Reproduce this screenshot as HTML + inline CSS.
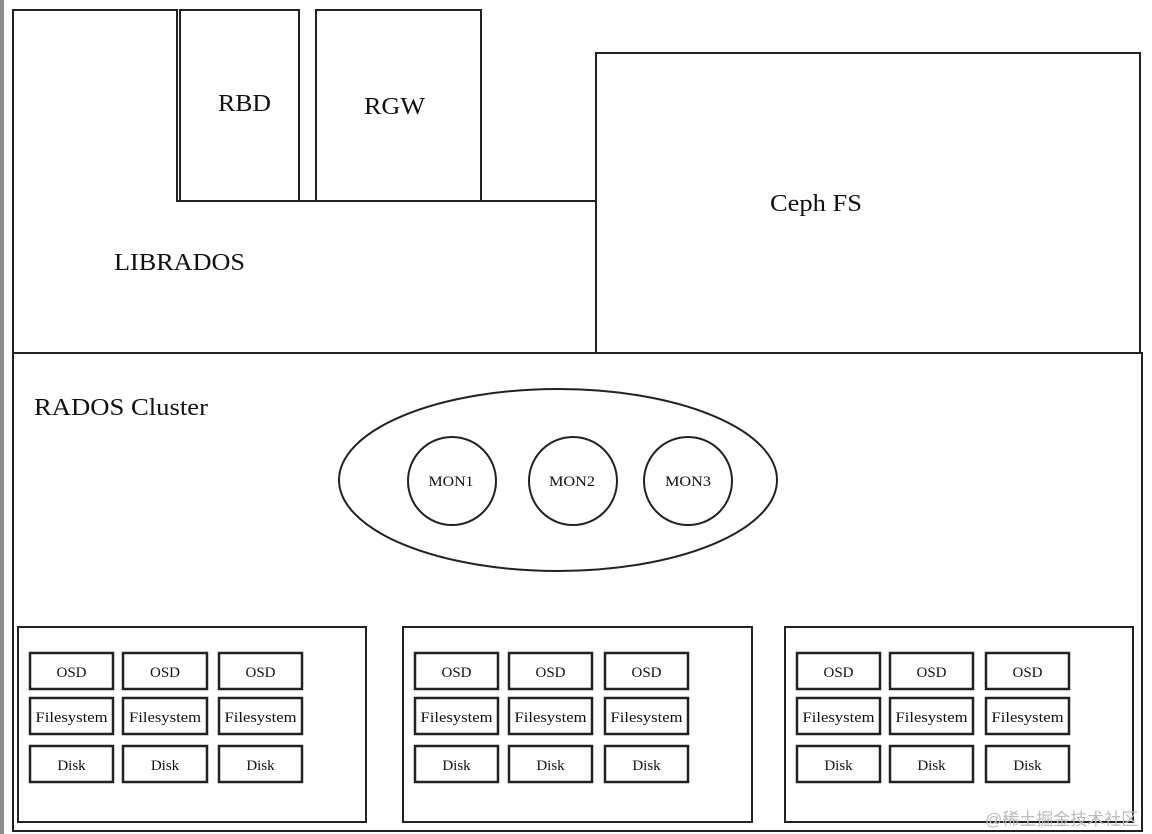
<!DOCTYPE html>
<html><head><meta charset="utf-8"><style>
html,body{margin:0;padding:0;background:#fff;}
svg{display:block;}
text{font-family:"Liberation Serif",serif;fill:#111;}
</style></head><body>
<svg width="1152" height="834" viewBox="0 0 1152 834" xmlns="http://www.w3.org/2000/svg">
<rect x="0" y="0" width="4" height="834" fill="#8a8a8a"/>
<g fill="none" stroke="#222" stroke-width="2">
<path d="M13 353 V10 H177 V201 H596"/>
<rect x="180" y="10" width="119" height="191"/>
<rect x="316" y="10" width="165" height="191"/>
<rect x="596" y="53" width="544" height="300"/>
<rect x="13" y="353" width="1129" height="478"/>
<ellipse cx="558" cy="480" rx="219" ry="91"/>
<circle cx="452" cy="481" r="44"/>
<circle cx="573" cy="481" r="44"/>
<circle cx="688" cy="481" r="44"/>
<rect x="18" y="627" width="348" height="195"/>
<rect x="403" y="627" width="349" height="195"/>
<rect x="785" y="627" width="348" height="195"/>
</g>
<g fill="none" stroke="#222" stroke-width="2.5">
<rect x="30" y="653" width="83" height="36"/><rect x="123" y="653" width="84" height="36"/><rect x="219" y="653" width="83" height="36"/>
<rect x="30" y="698" width="83" height="36"/><rect x="123" y="698" width="84" height="36"/><rect x="219" y="698" width="83" height="36"/>
<rect x="30" y="746" width="83" height="36"/><rect x="123" y="746" width="84" height="36"/><rect x="219" y="746" width="83" height="36"/>
<rect x="415" y="653" width="83" height="36"/><rect x="509" y="653" width="83" height="36"/><rect x="605" y="653" width="83" height="36"/>
<rect x="415" y="698" width="83" height="36"/><rect x="509" y="698" width="83" height="36"/><rect x="605" y="698" width="83" height="36"/>
<rect x="415" y="746" width="83" height="36"/><rect x="509" y="746" width="83" height="36"/><rect x="605" y="746" width="83" height="36"/>
<rect x="797" y="653" width="83" height="36"/><rect x="890" y="653" width="83" height="36"/><rect x="986" y="653" width="83" height="36"/>
<rect x="797" y="698" width="83" height="36"/><rect x="890" y="698" width="83" height="36"/><rect x="986" y="698" width="83" height="36"/>
<rect x="797" y="746" width="83" height="36"/><rect x="890" y="746" width="83" height="36"/><rect x="986" y="746" width="83" height="36"/>
</g>
<g font-size="24">
<text x="218" y="111" textLength="53" lengthAdjust="spacingAndGlyphs">RBD</text>
<text x="364" y="114" textLength="61" lengthAdjust="spacingAndGlyphs">RGW</text>
<text x="114" y="270" textLength="131" lengthAdjust="spacingAndGlyphs">LIBRADOS</text>
<text x="770" y="211" textLength="92" lengthAdjust="spacingAndGlyphs">Ceph FS</text>
<text x="34" y="415" textLength="174" lengthAdjust="spacingAndGlyphs">RADOS Cluster</text>
</g>
<g font-size="15" text-anchor="middle">
<text x="451" y="486" textLength="45" lengthAdjust="spacingAndGlyphs">MON1</text>
<text x="572" y="486" textLength="46" lengthAdjust="spacingAndGlyphs">MON2</text>
<text x="688" y="486" textLength="46" lengthAdjust="spacingAndGlyphs">MON3</text>
</g>
<g font-size="15" text-anchor="middle">
<text x="71.5" y="677">OSD</text><text x="165" y="677">OSD</text><text x="260.5" y="677">OSD</text>
<text x="71.5" y="722" textLength="72" lengthAdjust="spacingAndGlyphs">Filesystem</text><text x="165" y="722" textLength="72" lengthAdjust="spacingAndGlyphs">Filesystem</text><text x="260.5" y="722" textLength="72" lengthAdjust="spacingAndGlyphs">Filesystem</text>
<text x="71.5" y="770">Disk</text><text x="165" y="770">Disk</text><text x="260.5" y="770">Disk</text>
<text x="456.5" y="677">OSD</text><text x="550.5" y="677">OSD</text><text x="646.5" y="677">OSD</text>
<text x="456.5" y="722" textLength="72" lengthAdjust="spacingAndGlyphs">Filesystem</text><text x="550.5" y="722" textLength="72" lengthAdjust="spacingAndGlyphs">Filesystem</text><text x="646.5" y="722" textLength="72" lengthAdjust="spacingAndGlyphs">Filesystem</text>
<text x="456.5" y="770">Disk</text><text x="550.5" y="770">Disk</text><text x="646.5" y="770">Disk</text>
<text x="838.5" y="677">OSD</text><text x="931.5" y="677">OSD</text><text x="1027.5" y="677">OSD</text>
<text x="838.5" y="722" textLength="72" lengthAdjust="spacingAndGlyphs">Filesystem</text><text x="931.5" y="722" textLength="72" lengthAdjust="spacingAndGlyphs">Filesystem</text><text x="1027.5" y="722" textLength="72" lengthAdjust="spacingAndGlyphs">Filesystem</text>
<text x="838.5" y="770">Disk</text><text x="931.5" y="770">Disk</text><text x="1027.5" y="770">Disk</text>
</g>
<text x="985" y="825" font-size="17" style="fill:#bbb;font-family:'Liberation Sans','Noto Sans CJK SC',sans-serif">@稀土掘金技术社区</text>
</svg>
</body></html>
